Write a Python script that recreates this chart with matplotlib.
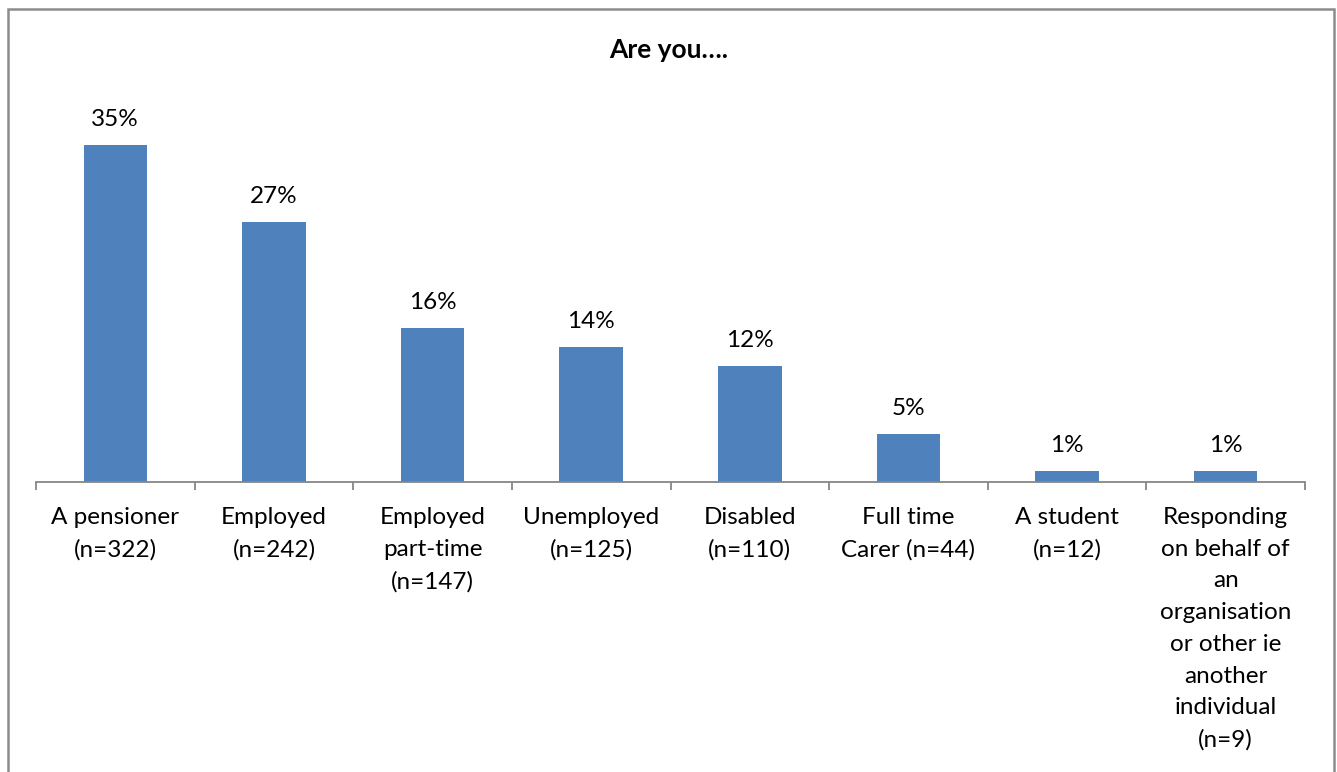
import matplotlib
matplotlib.use("Agg")
import matplotlib.pyplot as plt
from matplotlib.patches import Rectangle
import numpy as np

categories = ["A pensioner\n(n=322)", "Employed\n(n=242)", "Employed\npart-time\n(n=147)",
              "Unemployed\n(n=125)", "Disabled\n(n=110)", "Full time\nCarer (n=44)",
              "A student\n(n=12)",
              "Responding\non behalf of\nan\norganisation\nor other ie\nanother\nindividual\n(n=9)"]
values = [35, 27, 16, 14, 12, 5, 1.1, 1.1]
value_labels = ["35%", "27%", "16%", "14%", "12%", "5%", "1%", "1%"]
title = "Are you…."

W, H = 1337, 772
plt.rcParams['font.family'] = ['Lato', 'DejaVu Sans']
fig = plt.figure(figsize=(W/100, H/100), dpi=100)

ymax = 40
scale = 337/35
top_px = 482 - ymax*scale
ax = fig.add_axes([36/W, 1-482/H, (1305-36)/W, (482-top_px)/H])

x = np.arange(len(categories))
ax.bar(x, values, width=0.40, color="#4F81BD", zorder=2)
for xi, v, lab in zip(x, values, value_labels):
    ax.annotate(lab, (xi, v), xytext=(0, 11), textcoords="offset points",
                ha="center", va="bottom", fontsize=17.5, color="black")

ax.set_xlim(-0.5, len(categories)-0.5)
ax.set_ylim(0, ymax)
ax.set_yticks([])
for s in ["top", "right", "left"]:
    ax.spines[s].set_visible(False)
ax.spines["bottom"].set_color("#868686")
ax.spines["bottom"].set_linewidth(1.3)
ax.set_xticks(x)
ax.set_xticklabels(categories, fontsize=17.5, linespacing=1.63)
ax.tick_params(axis="x", which="major", length=0, pad=18)
ax.set_xticks(np.arange(-0.5, len(categories)), minor=True)
ax.tick_params(axis="x", which="minor", length=6, width=1.3, color="#868686")
ax.patch.set_alpha(0)

fig.text(0.5, 1-50/H, title, ha="center", va="center", fontsize=19, fontweight="bold")

fig.patches.append(Rectangle((7.5/W, -0.1), (1334-7.5)/W, 1.1 - 8.5/H, transform=fig.transFigure,
                             fill=False, edgecolor="#8C8C8C", linewidth=1.8))

fig.savefig("out.png", dpi=100)
